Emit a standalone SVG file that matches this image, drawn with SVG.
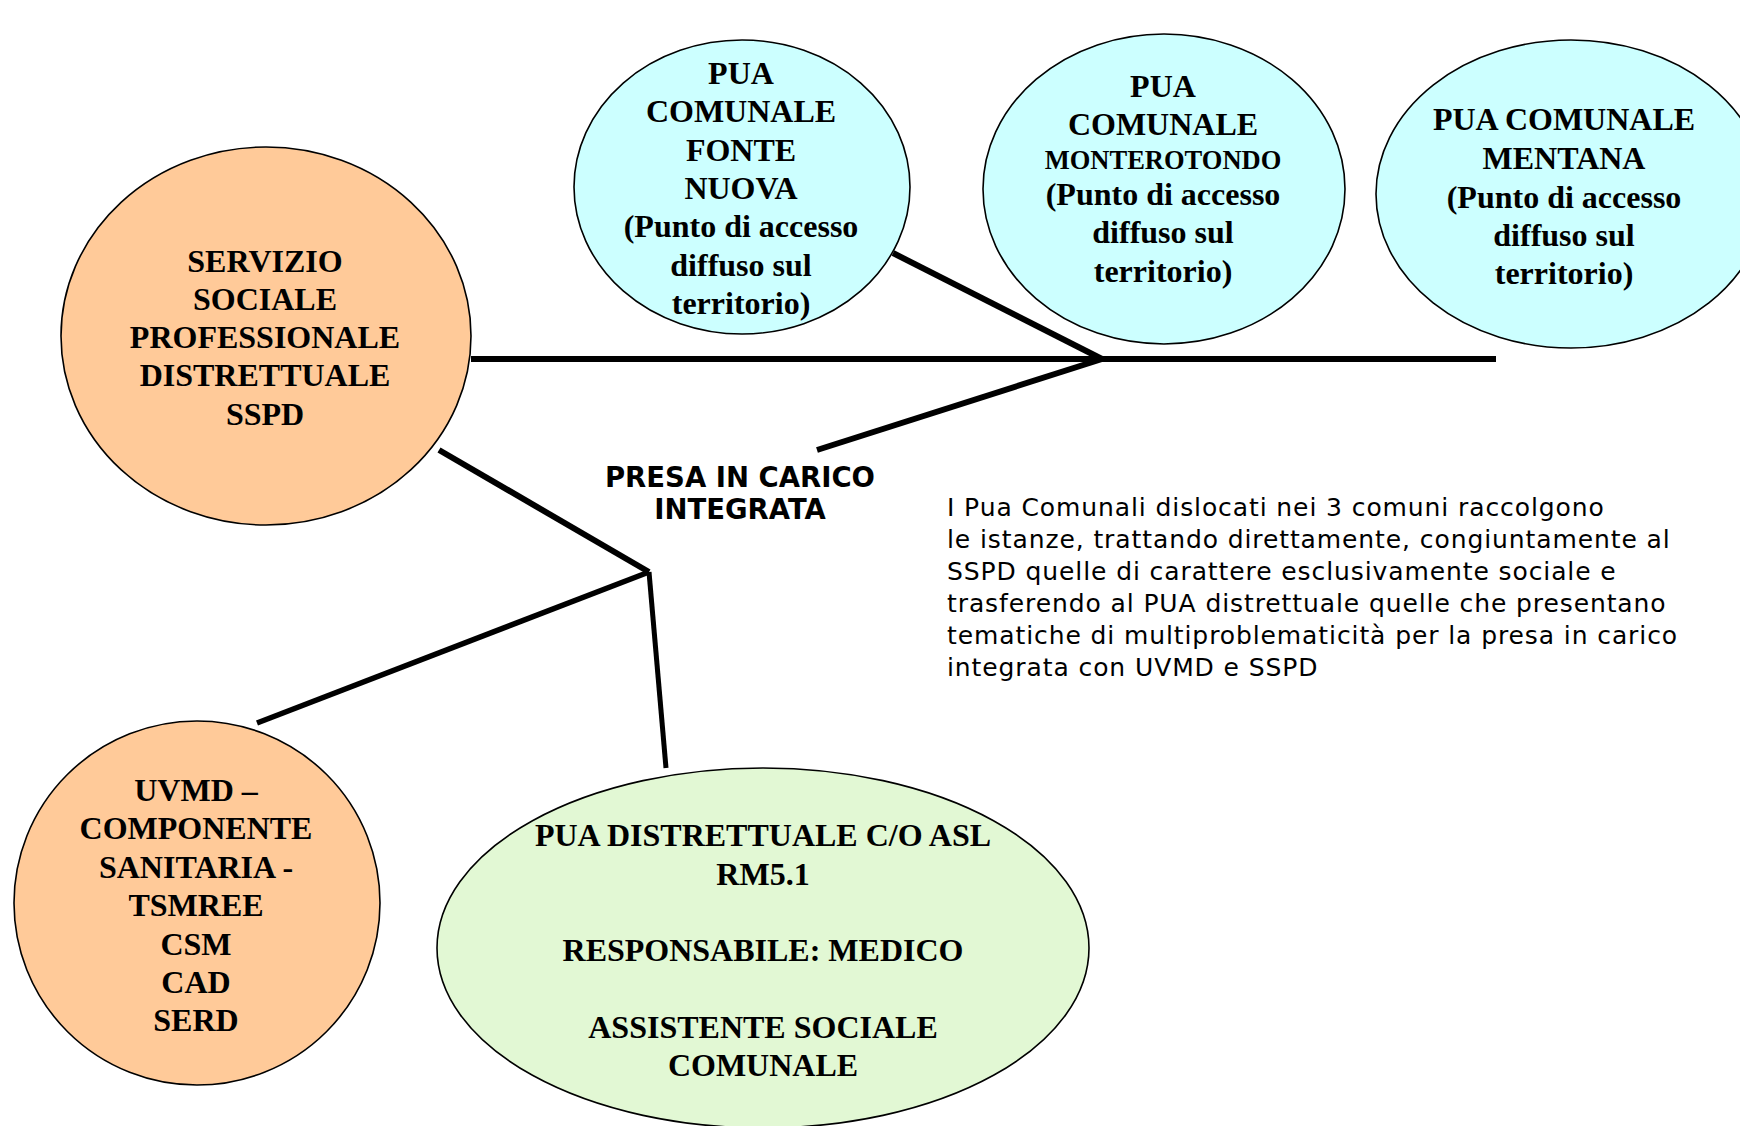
<svg xmlns="http://www.w3.org/2000/svg" width="1740" height="1126" viewBox="0 0 1740 1126">
<style>
.bg{fill:#ffffff}
.node{stroke:#000;stroke-width:1.6}
.peach{fill:#FFCA99}
.cyan{fill:#CCFFFF}
.green{fill:#E2F8D4}
.t{font-family:"Liberation Serif","Times New Roman",serif;font-weight:bold;font-size:32px;fill:#000;text-anchor:middle}
.ts{font-size:26.5px}
.lbl{font-family:"DejaVu Sans",Verdana,sans-serif;font-weight:bold;font-size:27.5px;fill:#000;text-anchor:middle}
.para{font-family:"DejaVu Sans",Verdana,sans-serif;font-size:25px;letter-spacing:0.9px;fill:#000}
.conn line{stroke:#000;stroke-linecap:butt}
</style>
<rect class="bg" x="0" y="0" width="1740" height="1126"/>
<g id="connectors" class="conn">
<line x1="471" y1="359" x2="1496" y2="359" stroke-width="6"/>
<line x1="893" y1="253" x2="1102" y2="359" stroke-width="6"/>
<line x1="817" y1="450" x2="1102" y2="359" stroke-width="6"/>
<line x1="439" y1="450" x2="649" y2="572" stroke-width="6"/>
<line x1="649" y1="572" x2="257" y2="723" stroke-width="5.5"/>
<line x1="649" y1="572" x2="666" y2="768" stroke-width="5"/>
</g>
<g id="sspd">
<ellipse class="node peach" cx="266" cy="336" rx="205" ry="189"/>
<text class="t"><tspan x="265" y="272">SERVIZIO</tspan><tspan x="265" y="310">SOCIALE</tspan><tspan x="265" y="348">PROFESSIONALE</tspan><tspan x="265" y="386">DISTRETTUALE</tspan><tspan x="265" y="425">SSPD</tspan></text>
</g>
<g id="pua-fonte-nuova">
<ellipse class="node cyan" cx="742" cy="187" rx="168" ry="147"/>
<text class="t"><tspan x="741" y="84">PUA</tspan><tspan x="741" y="122">COMUNALE</tspan><tspan x="741" y="161">FONTE</tspan><tspan x="741" y="199">NUOVA</tspan><tspan x="741" y="237">(Punto di accesso</tspan><tspan x="741" y="276">diffuso sul</tspan><tspan x="741" y="314">territorio)</tspan></text>
</g>
<g id="pua-monterotondo">
<ellipse class="node cyan" cx="1164" cy="189" rx="181" ry="155"/>
<text class="t"><tspan x="1163" y="97">PUA</tspan><tspan x="1163" y="135">COMUNALE</tspan><tspan x="1163" y="169" class="ts">MONTEROTONDO</tspan><tspan x="1163" y="205">(Punto di accesso</tspan><tspan x="1163" y="243">diffuso sul</tspan><tspan x="1163" y="282">territorio)</tspan></text>
</g>
<g id="pua-mentana">
<ellipse class="node cyan" cx="1571" cy="194" rx="195" ry="154"/>
<text class="t"><tspan x="1564" y="130">PUA COMUNALE</tspan><tspan x="1564" y="169">MENTANA</tspan><tspan x="1564" y="208">(Punto di accesso</tspan><tspan x="1564" y="246">diffuso sul</tspan><tspan x="1564" y="284">territorio)</tspan></text>
</g>
<g id="uvmd">
<ellipse class="node peach" cx="197" cy="903" rx="183" ry="182"/>
<text class="t"><tspan x="196" y="801">UVMD –</tspan><tspan x="196" y="839">COMPONENTE</tspan><tspan x="196" y="878">SANITARIA -</tspan><tspan x="196" y="916">TSMREE</tspan><tspan x="196" y="955">CSM</tspan><tspan x="196" y="993">CAD</tspan><tspan x="196" y="1031">SERD</tspan></text>
</g>
<g id="pua-distrettuale">
<ellipse class="node green" cx="763" cy="948" rx="326" ry="180"/>
<text class="t"><tspan x="763" y="846">PUA DISTRETTUALE C/O ASL</tspan><tspan x="763" y="885">RM5.1</tspan><tspan x="763" y="961">RESPONSABILE: MEDICO</tspan><tspan x="763" y="1038">ASSISTENTE SOCIALE</tspan><tspan x="763" y="1076">COMUNALE</tspan></text>
</g>
<g id="label-presa">
<text class="lbl"><tspan x="740" y="487">PRESA IN CARICO</tspan><tspan x="740" y="519">INTEGRATA</tspan></text>
</g>
<g id="note">
<text class="para"><tspan x="947" y="516">I Pua Comunali dislocati nei 3 comuni raccolgono</tspan><tspan x="947" y="548">le istanze, trattando direttamente, congiuntamente al</tspan><tspan x="947" y="580">SSPD quelle di carattere esclusivamente sociale e</tspan><tspan x="947" y="612">trasferendo al PUA distrettuale quelle che presentano</tspan><tspan x="947" y="644">tematiche di multiproblematicità per la presa in carico</tspan><tspan x="947" y="676">integrata con UVMD e SSPD</tspan></text>
</g>
</svg>
